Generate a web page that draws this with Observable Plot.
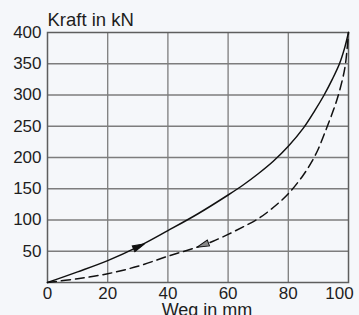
<!DOCTYPE html>
<html><head><meta charset="utf-8">
<script src="https://cdn.jsdelivr.net/npm/d3@7"></script>
<script src="https://cdn.jsdelivr.net/npm/@observablehq/plot@0.6"></script>
<style>
html,body{margin:0;padding:0;background:#f5f7fa;}
#chart svg{display:block;}
</style></head><body><div id="chart"></div>
<script>
const xTicks = [0, 20, 40, 60, 80, 100];
const yTicks = [50, 100, 150, 200, 250, 300, 350, 400];
const loadX = [0, 10, 20, 30, 40, 50, 60, 65, 70, 75, 80, 85, 88.8, 91.9, 94.6, 97, 98.7, 100];
const loadY = [0, 17, 35, 57, 83, 110, 140, 156, 174, 194, 218, 247, 275, 300, 325, 350, 375, 400];
const unloadX = [0, 10, 20, 30, 40, 50, 55, 60, 65, 70, 75, 80, 85, 88, 90, 92, 94, 96, 98, 99, 100];
const unloadY = [0, 6, 14, 26, 42, 57, 66, 77, 89, 102, 120, 142, 172, 195, 214, 238, 263, 290, 325, 350, 400];
const arrowSeries = ["load", "unload"];
const arrowAtX = [30, 52];
const xLabel = "Weg in mm";
const yLabel = "Kraft in kN";

const W = 359, H = 315, mL = 47, mR = 11, mT = 32, mB = 33;
const kx = (W - mL - mR) / 100, ky = (H - mT - mB) / 400;
const load = loadX.map((x, i) => ({x, y: loadY[i]}));
const unload = unloadX.map((x, i) => ({x, y: unloadY[i]}));
const curves = {load: {xs: loadX, ys: loadY, dir: 0}, unload: {xs: unloadX, ys: unloadY, dir: 180}};
const arrows = arrowSeries.map((s, j) => {
  const c = curves[s], xv = arrowAtX[j];
  let i = 0; while (i < c.xs.length - 2 && c.xs[i + 1] < xv) i++;
  const t = (xv - c.xs[i]) / (c.xs[i + 1] - c.xs[i]);
  const y = c.ys[i] + t * (c.ys[i + 1] - c.ys[i]);
  const dxp = (c.xs[i + 1] - c.xs[i]) * kx, dyp = (c.ys[i + 1] - c.ys[i]) * ky;
  const ang = Math.atan2(dxp, dyp) * 180 / Math.PI + c.dir;
  return {series: s, x: xv, y, ang};
});
const arrowSym = {draw(ctx, size) { const s = Math.sqrt(size); ctx.moveTo(0, -s); ctx.lineTo(s * 0.4, s * 0.6); ctx.lineTo(-s * 0.4, s * 0.6); ctx.closePath(); }};

const gridC = "#7d7d7d";
const chart = Plot.plot({
  width: W, height: H,
  marginLeft: mL, marginRight: mR, marginTop: mT, marginBottom: mB,
  style: {fontFamily: "Liberation Sans, Arial, sans-serif", fontSize: "17px", color: "#1e1e1e", background: "transparent"},
  x: {domain: [0, 100]},
  y: {domain: [0, 400]},
  marks: [
    Plot.ruleX(xTicks.slice(1, -1), {stroke: gridC, strokeWidth: 1.3}),
    Plot.ruleY(yTicks.slice(0, -1), {stroke: gridC, strokeWidth: 1.3}),
    Plot.frame({stroke: "#5e5e5e", strokeWidth: 1.5}),
    Plot.axisX(xTicks.slice(0, -1), {tickSize: 0, tickPadding: 4, label: null, fontSize: 17}),
    Plot.axisX(xTicks.slice(-1), {tickSize: 0, tickPadding: 4, label: null, fontSize: 17, dx: -9}),
    Plot.axisY(yTicks, {tickSize: 0, tickPadding: 6, label: null, fontSize: 17}),
    Plot.line(load, {x: "x", y: "y", curve: "catmull-rom", stroke: "#111", strokeWidth: 1.5}),
    Plot.line(unload, {x: "x", y: "y", curve: "catmull-rom", stroke: "#111", strokeWidth: 1.5, strokeDasharray: "9,5"}),
    Plot.dot(arrows, {x: "x", y: "y", rotate: "ang", r: 4.4, symbol: arrowSym,
      fill: d => d.series === "load" ? "#111" : "#8a8a8a", stroke: "#111", strokeWidth: 1}),
    Plot.text([yLabel], {text: d => d, frameAnchor: "top-left", textAnchor: "start", lineAnchor: "bottom", dy: -7, fontSize: 18.5}),
    Plot.text([xLabel], {text: d => d, frameAnchor: "bottom", lineAnchor: "bottom", dx: 9, dy: 33, fontSize: 18})
  ]
});
document.getElementById("chart").appendChild(chart);
</script></body></html>
